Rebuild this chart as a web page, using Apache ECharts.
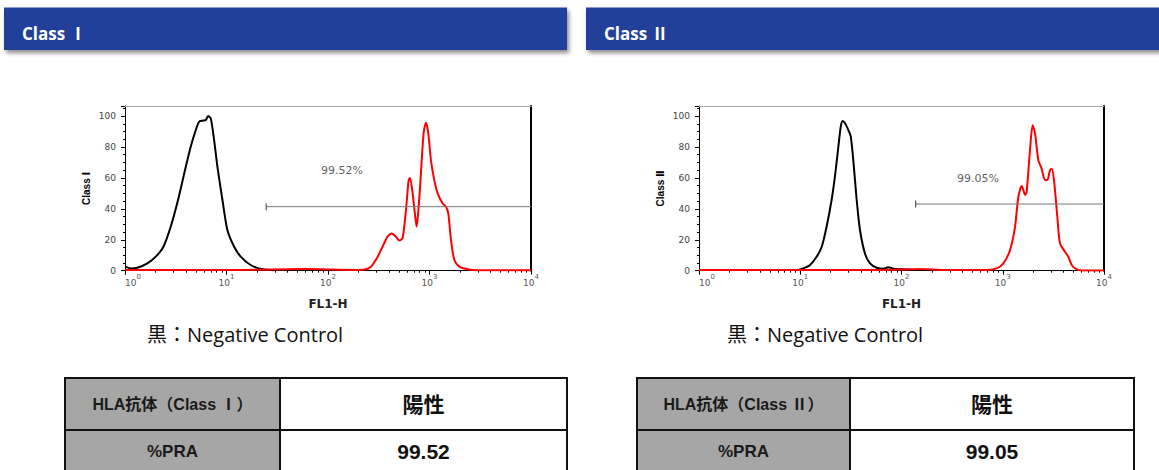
<!DOCTYPE html>
<html><head><meta charset="utf-8">
<script src="https://cdn.jsdelivr.net/npm/echarts@6/dist/echarts.min.js"></script>
<style>html,body{margin:0;padding:0;background:#fff;}#c{width:1159px;height:470px;}</style>
</head><body><div id="c"></div>
<script>
// ---------- data ----------
const panelTitles = ['Class Ⅰ', 'Class Ⅱ'];
const yAxisNames = ['Class Ⅰ', 'Class Ⅱ'];
const xAxisName = 'FL1-H';
const decadeTicks = [1, 10, 100, 1000, 10000];
const legendText = '黒：Negative Control';

// [FL1-H, count]
const negativeControl1 = [[1,2.6],[1.14,1.5],[1.32,1.9],[1.66,4.7],[2.08,10.1],[2.39,15.5],[2.82,28.4],[3.33,45.7],[3.97,67.2],[4.44,80.2],[4.98,90.9],[5.37,96.3],[5.79,97],[6.25,97.4],[6.59,100],[7.0,98.5],[7.55,84.5],[8.14,67.2],[9.12,45.7],[10.2,26.3],[11.9,15.5],[13.8,9.1],[17.3,3.7],[21.8,1.1],[29.5,0.3]];
const sample1 = [[1,0.5],[3,0.5],[10,0.5],[20,0.6],[40,1],[70,1.1],[100,0.8],[180,0.5],[230,0.8],[265,2.6],[308,9],[345,15.5],[386,22],[423,24],[467,22],[503,19.5],[543,21],[586,39],[623,58.6],[642,60],[682,50],[715,38],[747,28.4],[775,38],[811,56],[875,89],[923,95.7],[973,89],[1033,71.5],[1115,58.6],[1203,50],[1348,43.5],[1453,41.4],[1532,37],[1629,19.8],[1758,6.9],[1968,2.6],[2377,0.9],[2983,0.3],[5000,0.3],[10000,0.3]];
const negativeControl2 = [[1,0.4],[5,0.4],[9.2,0.4],[10.7,1.5],[12.5,3.7],[14.5,9],[16.3,15.5],[18.2,28.4],[20.4,45.7],[22.0,60.8],[23.8,80.2],[25.1,93],[26.2,96.8],[27.7,95.3],[29.8,91],[31.5,87],[33.4,71.5],[36.1,45.7],[38.9,26.3],[43.6,11],[48.9,4.7],[56.9,1.9],[66.2,1.3],[74.1,2.2],[83.1,1.3],[104,0.9],[141,0.4]];
const sample2 = [[1,0.4],[10,0.4],[60,0.4],[110,0.8],[150,1.1],[200,0.8],[300,0.4],[643,0.4],[871,1.5],[1014,4.7],[1180,13.4],[1322,28.4],[1426,47.8],[1538,54.7],[1600,52],[1660,49],[1722,51],[1858,78],[1973,94],[2083,88.8],[2246,71.5],[2422,66],[2612,58.6],[2754,58.6],[2930,65],[3042,66],[3207,58.6],[3459,35],[3675,17.7],[4119,12.3],[4444,9],[4797,3.7],[5373,0.9],[6250,0.2],[10000,0.2]];

// gate marker: [start FL1-H, count level]; gate label: [FL1-H, count]
const gates = [[24.6, 41.4], [138, 43.1]];
const gateLabelPos = [[137, 64.5], [569, 59.3]];
const gatePercent = ['99.52%', '99.05%'];

const tableHeaders1 = ['HLA抗体（Class Ⅰ）', '%PRA'];
const tableValues1 = ['陽性', '99.52'];
const tableHeaders2 = ['HLA抗体（Class Ⅱ）', '%PRA'];
const tableValues2 = ['陽性', '99.05'];

// ---------- build ----------
const minorTicks = [];
for (let d = 0; d < 4; d++) for (let k = 2; k <= 9; k++) minorTicks.push(k * Math.pow(10, d));

const panels = [
  { grid: {left: 125, top: 106, width: 406, height: 164.7}, neg: negativeControl1, pos: sample1 },
  { grid: {left: 699, top: 106, width: 405, height: 164.7}, neg: negativeControl2, pos: sample2 }
];
const YMAX = 106.5;
const axFont = 'DejaVu Sans';

const grid = [], xAxis = [], yAxis = [], series = [];
panels.forEach((p, i) => {
  grid.push(p.grid);
  xAxis.push({
    gridIndex: i, type: 'log', logBase: 10, min: 1, max: 10000, position: 'bottom',
    name: xAxisName, nameLocation: 'middle', nameGap: 27,
    nameTextStyle: {fontFamily: axFont, fontWeight: 'bold', fontSize: 12, color: '#222'},
    axisLine: {show: true, lineStyle: {color: '#000', width: 1}},
    axisTick: {show: true, customValues: decadeTicks, length: 4, lineStyle: {color: '#000'}},
    axisLabel: {
      customValues: decadeTicks, margin: 3, alignMinLabel: 'left',
      formatter: v => '{b|10}{s|' + Math.round(Math.log10(v)) + '}',
      rich: {
        b: {fontFamily: axFont, fontSize: 9, color: '#555', verticalAlign: 'bottom', padding: [5, 0, 0, 0]},
        s: {fontFamily: axFont, fontSize: 7, color: '#555', verticalAlign: 'top'}
      }
    },
    splitLine: {show: false}
  });
  xAxis.push({
    gridIndex: i, type: 'log', logBase: 10, min: 1, max: 10000, position: 'bottom',
    axisLine: {show: false},
    axisTick: {show: true, customValues: minorTicks, length: 2, lineStyle: {color: '#000'}},
    axisLabel: {show: false}, splitLine: {show: false}
  });
  xAxis.push({
    gridIndex: i, type: 'log', logBase: 10, min: 1, max: 10000, position: 'top',
    axisLine: {show: true, lineStyle: {color: '#aaa', width: 1}},
    axisTick: {show: false}, axisLabel: {show: false}, splitLine: {show: false}
  });
  yAxis.push({
    gridIndex: i, type: 'value', min: 0, max: YMAX, interval: 20,
    name: yAxisNames[i], nameLocation: 'middle', nameGap: 34, nameRotate: 90,
    nameTextStyle: {fontFamily: 'Liberation Sans, DejaVu Sans, Noto Sans CJK JP', fontWeight: 'bold', fontSize: 10, color: '#000'},
    axisLine: {show: true, lineStyle: {color: '#000', width: 1}},
    axisTick: {show: true, length: 4, lineStyle: {color: '#000'}},
    minorTick: {show: true, splitNumber: 4, length: 2, lineStyle: {color: '#000'}},
    axisLabel: {showMaxLabel: false, fontFamily: axFont, fontSize: 9, color: '#444', margin: 9},
    splitLine: {show: false}
  });
  yAxis.push({
    gridIndex: i, type: 'value', min: 0, max: YMAX, position: 'right',
    axisLine: {show: true, lineStyle: {color: '#000', width: 2}},
    axisTick: {show: false}, axisLabel: {show: false}, splitLine: {show: false}
  });
  const xi = 3 * i, yi = 2 * i;
  series.push({
    type: 'line', xAxisIndex: xi, yAxisIndex: yi, data: p.neg, showSymbol: false, smooth: 0.25,
    lineStyle: {color: '#000', width: 2}, itemStyle: {color: '#000'}, silent: true, z: 2
  });
  series.push({
    type: 'line', xAxisIndex: xi, yAxisIndex: yi, data: p.pos, showSymbol: false, smooth: 0.25,
    lineStyle: {color: '#ff0000', width: 2}, itemStyle: {color: '#ff0000'}, silent: true, z: 3
  });
  series.push({
    type: 'line', xAxisIndex: xi, yAxisIndex: yi, showSymbol: true, silent: true, z: 4,
    data: [
      {value: [gates[i][0], gates[i][1]], symbol: 'rect', symbolSize: [1.2, 7]},
      {value: [10000, gates[i][1]], symbol: 'none'}
    ],
    lineStyle: {color: '#777', width: 1}, itemStyle: {color: '#555'}
  });
  series.push({
    type: 'scatter', xAxisIndex: xi, yAxisIndex: yi, silent: true, z: 5,
    data: [gateLabelPos[i]], symbolSize: 0, itemStyle: {color: 'transparent'},
    label: {show: true, position: 'inside', formatter: gatePercent[i],
      fontFamily: axFont, fontSize: 11, color: '#333'}
  });
});

// ---------- decorations: banners, legend text, tables ----------
const graphic = [];
const banners = [{x: 4, w: 563}, {x: 586, w: 580}];
banners.forEach((b, i) => {
  graphic.push({type: 'rect', shape: {x: b.x, y: 7.5, width: b.w, height: 42.5},
    style: {fill: '#22409a', shadowBlur: 4, shadowOffsetX: 2, shadowOffsetY: 3, shadowColor: 'rgba(0,0,0,0.45)'}});
  graphic.push({type: 'text', x: b.x + 18, y: 33.5,
    style: {text: panelTitles[i], fill: '#fff', fontFamily: 'Open Sans, Noto Sans CJK JP', fontWeight: 'bold', fontSize: 17, verticalAlign: 'middle', align: 'left'}});
});
[147, 727].forEach(x => {
  graphic.push({type: 'text', x: x, y: 334,
    style: {text: legendText, fill: '#111', fontFamily: 'Open Sans, Noto Sans CJK JP', fontSize: 20, verticalAlign: 'middle', align: 'left'}});
});
const tables = [
  {x0: 65, x1: 280, x2: 567, heads: tableHeaders1, vals: tableValues1},
  {x0: 637, x1: 850, x2: 1134, heads: tableHeaders2, vals: tableValues2}
];
const rowTop = 378, rowH = 52;
const textY = [404, 451];
tables.forEach(t => {
  t.heads.forEach((h, r) => {
    const y = rowTop + r * rowH;
    graphic.push({type: 'rect', shape: {x: t.x0, y: y, width: t.x1 - t.x0, height: rowH},
      style: {fill: '#a6a6a6', stroke: '#111', lineWidth: 2}});
    graphic.push({type: 'rect', shape: {x: t.x1, y: y, width: t.x2 - t.x1, height: rowH},
      style: {fill: '#fff', stroke: '#111', lineWidth: 2}});
    graphic.push({type: 'text', x: (t.x0 + t.x1) / 2, y: textY[r], z: 10,
      style: {text: h, fill: '#1a1a1a', fontFamily: 'Liberation Sans, Noto Sans CJK JP', fontWeight: 'bold', fontSize: r === 0 ? 16 : 17, align: 'center', verticalAlign: 'middle'}});
    graphic.push({type: 'text', x: (t.x1 + t.x2) / 2, y: textY[r], z: 10,
      style: {text: t.vals[r], fill: '#111', fontFamily: 'Liberation Sans, Noto Sans CJK JP', fontWeight: 'bold', fontSize: 21, align: 'center', verticalAlign: 'middle'}});
  });
});

const chart = echarts.init(document.getElementById('c'), null, {renderer: 'svg'});
chart.setOption({
  animation: false,
  backgroundColor: '#fff',
  grid, xAxis, yAxis, series, graphic
});
</script>
</body></html>
